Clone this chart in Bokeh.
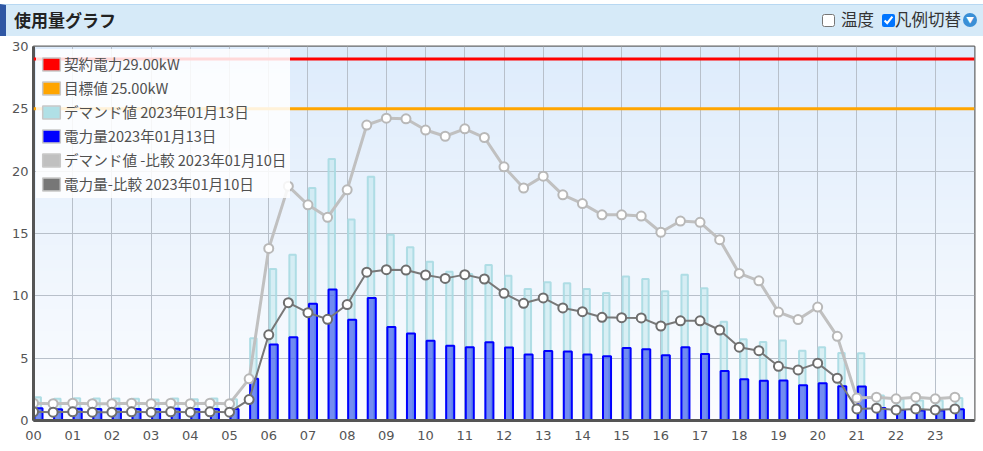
import numpy as np
from bokeh.plotting import figure
from bokeh.models import Span, Legend, LegendItem, FixedTicker, Div, ColumnDataSource
from bokeh.layouts import column
from bokeh.transform import dodge
from bokeh.embed import file_html
from bokeh.resources import INLINE

# ---------------- data ----------------
hour_labels = ["00", "01", "02", "03", "04", "05", "06", "07", "08", "09", "10", "11",
               "12", "13", "14", "15", "16", "17", "18", "19", "20", "21", "22", "23"]
slots = list(range(48))  # half-hour slots 00:00 .. 23:30

contract_kw = 29.0
target_kw = 25.0

demand_0113 = [1.87, 1.74, 1.79, 1.77, 1.77, 1.74, 1.68, 1.77, 1.70, 1.77, 1.70,
               6.60, 12.15, 13.30, 18.65, 20.97, 16.13, 19.55, 14.90, 13.90, 12.74,
               11.94, 11.76, 12.47, 11.62, 10.55, 11.08, 11.00, 10.55, 10.23, 11.56,
               11.35, 10.36, 11.70, 10.60, 7.93, 6.52, 6.30, 6.41, 5.60, 5.88,
               5.42, 5.40, 2.00, 1.70, 1.60, 1.60, 1.80]
energy_0113 = [0.99, 0.90, 0.95, 0.93, 0.95, 0.93, 0.93, 0.95, 0.93, 0.93, 0.93,
               3.34, 6.09, 6.68, 9.37, 10.50, 8.09, 9.83, 7.50, 6.97, 6.40,
               6.00, 5.88, 6.28, 5.85, 5.29, 5.58, 5.53, 5.29, 5.15, 5.82,
               5.72, 5.24, 5.88, 5.34, 3.98, 3.31, 3.18, 3.21, 2.83, 2.99,
               2.75, 2.72, 1.00, 0.85, 0.80, 0.80, 0.90]
demand_0110 = [1.39, 1.35, 1.39, 1.35, 1.35, 1.39, 1.35, 1.39, 1.35, 1.39, 1.35,
               3.34, 13.80, 18.80, 17.30, 16.30, 18.50, 23.70, 24.25, 24.20, 23.30,
               22.80, 23.40, 22.70, 20.35, 18.65, 19.60, 18.10, 17.40, 16.50, 16.50,
               16.40, 15.10, 16.00, 15.90, 14.50, 11.80, 11.20, 8.70, 8.10, 9.10,
               6.75, 1.80, 1.87, 1.74, 1.87, 1.74, 1.87]
energy_0110 = [0.70, 0.67, 0.70, 0.67, 0.67, 0.70, 0.67, 0.70, 0.67, 0.70, 0.67,
               1.68, 6.87, 9.45, 8.65, 8.12, 9.30, 11.90, 12.10, 12.07, 11.67,
               11.40, 11.70, 11.35, 10.20, 9.40, 9.83, 9.03, 8.73, 8.28, 8.25,
               8.23, 7.58, 8.00, 8.00, 7.26, 5.88, 5.60, 4.35, 4.06, 4.60,
               3.39, 0.93, 0.99, 0.85, 0.93, 0.85, 0.93]

legend_labels = ["契約電力29.00kW", "目標値 25.00kW", "デマンド値 2023年01月13日",
                 "電力量2023年01月13日", "デマンド値 -比較 2023年01月10日", "電力量-比較 2023年01月10日"]
legend_colors = ["#ff0000", "#ffa500", "#b0e0e6", "#0000ff", "#c0c0c0", "#777777"]

# ---------------- figure ----------------
src = ColumnDataSource(dict(slot=slots, d13=demand_0113, e13=energy_0113,
                            d10=demand_0110, e10=energy_0110))

p = figure(width=983, height=415, x_range=(0, 48), y_range=(0, 30),
           output_backend="svg", toolbar_location=None,
           min_border_left=33, min_border_right=9, min_border_top=10, min_border_bottom=31)
p.border_fill_color = "white"
p.background_fill_color = "white"
p.outline_line_color = "#666666"
p.outline_line_width = 2

# gradient plot background
n = 100
img = np.empty((n, 1), dtype=np.uint32)
view = img.view(dtype=np.uint8).reshape((n, 1, 4))
t = np.linspace(0, 1, n)
view[:, 0, 0] = (252 + (222 - 252) * t).astype(np.uint8)
view[:, 0, 1] = (253 + (236 - 253) * t).astype(np.uint8)
view[:, 0, 2] = (255 + (252 - 255) * t).astype(np.uint8)
view[:, 0, 3] = 255
p.image_rgba(image=[img], x=0, y=0, dw=48, dh=30, level="image")

hour_ticks = [2 * h for h in range(24)]
p.xaxis.ticker = FixedTicker(ticks=hour_ticks)
p.xgrid.ticker = FixedTicker(ticks=hour_ticks)
p.xaxis.major_label_overrides = {2 * h: lab for h, lab in enumerate(hour_labels)}
p.yaxis.ticker = FixedTicker(ticks=[0, 5, 10, 15, 20, 25, 30])
p.ygrid.ticker = FixedTicker(ticks=[0, 5, 10, 15, 20, 25, 30])

for g in (p.xgrid, p.ygrid):
    g.grid_line_color = "#b8c0ca"
    g.grid_line_width = 1

for ax in (p.xaxis, p.yaxis):
    ax.axis_line_color = "#555555"
    ax.axis_line_width = 3
    ax.major_tick_line_color = None
    ax.minor_tick_line_color = None
    ax.major_tick_out = 0
    ax.major_tick_in = 0
    ax.major_label_text_font = "DejaVu Sans"
    ax.major_label_text_font_size = "13px"
    ax.major_label_text_color = "#555555"
p.xaxis.major_label_standoff = 10
p.yaxis.major_label_standoff = 5

# reference lines
p.add_layout(Span(location=contract_kw, dimension="width", line_color="#ff0000", line_width=3))
p.add_layout(Span(location=target_kw, dimension="width", line_color="#ffa500", line_width=3))

# bars
p.vbar(x=dodge("slot", 0.215, range=p.x_range), top="d13", bottom=0, width=0.33, source=src,
       fill_color="#b0e0e6", fill_alpha=0.4, line_color="#a8dae2", line_width=2, line_alpha=0.9)
p.vbar(x=dodge("slot", 0.255, range=p.x_range), top="e13", bottom=0, width=0.41, source=src,
       fill_color="#0a28f0", fill_alpha=0.5, line_color="#0000ff", line_width=2)

# comparison lines
p.line(x="slot", y="d10", source=src, line_color="#c0c0c0", line_width=3)
p.scatter(x="slot", y="d10", source=src, size=9, fill_color="white", line_color="#b8b8b8", line_width=2)
p.line(x="slot", y="e10", source=src, line_color="#787878", line_width=2)
p.scatter(x="slot", y="e10", source=src, size=9, fill_color="white", line_color="#6e6e6e", line_width=2)

# legend with box swatches (proxy renderers with a single NaN point -> nothing drawn in plot)
items = []
for lab, col in zip(legend_labels, legend_colors):
    r = p.rect(x=[float("nan")], y=[float("nan")], width=1, height=1,
               fill_color=col, line_color="#c8c8c8", line_width=1.5)
    items.append(LegendItem(label=lab, renderers=[r]))
legend = Legend(items=items, location="top_left", background_fill_color="white",
                background_fill_alpha=0.85, border_line_alpha=0,
                label_text_font="Noto Sans CJK JP", label_text_font_size="14.6px",
                label_text_color="#505050", glyph_width=22, glyph_height=16,
                label_height=20, spacing=3, padding=4, margin=3, label_standoff=2)
p.add_layout(legend)

header_html = (
    '<div style="box-sizing:border-box;width:983px;height:36px;background:#fff;padding-top:4px;">'
    '<div style="box-sizing:border-box;width:983px;height:32px;background:#d6eaf8;'
    'border-top:1px solid #b8d8f2;border-left:6px solid #2f57a4;display:flex;align-items:center;'
    'justify-content:space-between;padding:0 6px 1px 8px;font-family:\'Noto Sans CJK JP\',sans-serif;">'
    '<span style="font-weight:bold;font-size:17px;color:#222;">使用量グラフ</span>'
    '<span style="font-size:16.5px;color:#333;display:flex;align-items:center;">'
    '<input type="checkbox" style="margin:0 6px 0 0;width:13px;height:13px;">温度'
    '<input type="checkbox" checked style="margin:0 0 0 8px;width:13px;height:13px;">凡例切替'
    '<span style="display:inline-block;width:14px;height:14px;border-radius:50%;background:#3a8fd6;'
    'color:white;font-size:8px;line-height:14px;text-align:center;margin-left:2px;">▼</span>'
    '</span></div></div>'
)
header = Div(text=header_html, width=983, height=36, margin=(0, 0, 0, 0))

layout = column(header, p, spacing=0)
open("out.html", "w").write(file_html(layout, INLINE))
